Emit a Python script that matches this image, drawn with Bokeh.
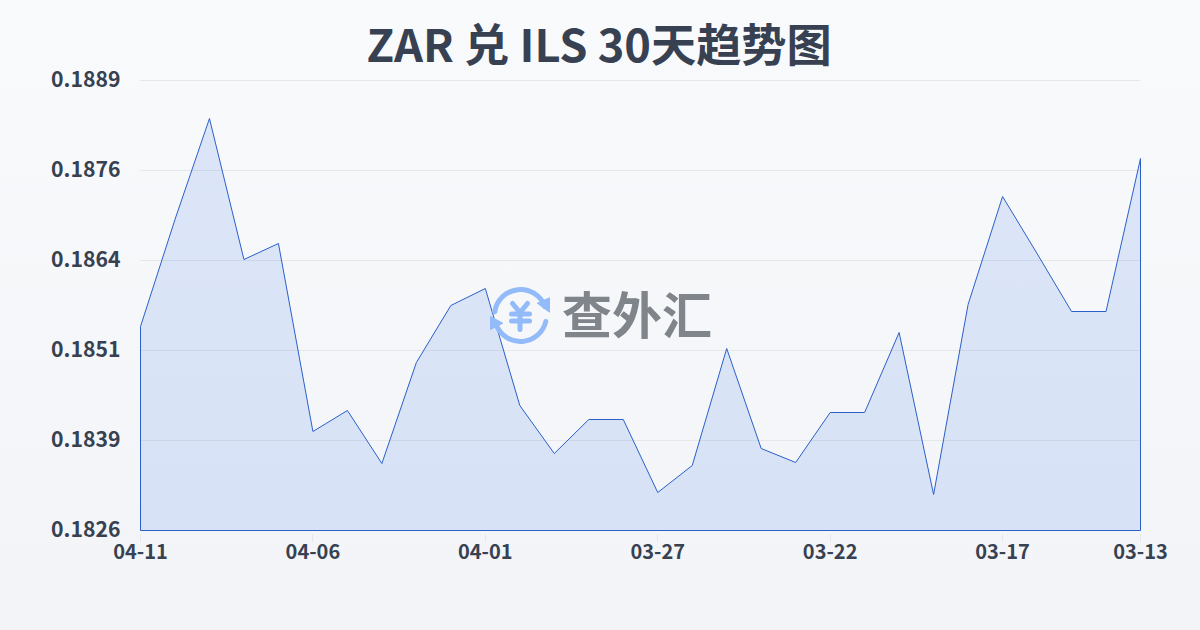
from bokeh.plotting import figure
from bokeh.models import Range1d, Label, FixedTicker, LinearAxis
from bokeh.embed import file_html
from bokeh.resources import INLINE

title_text = "ZAR 兑 ILS 30天趋势图"
dates = ["04-11","04-10","04-09","04-08","04-07","04-06","04-05","04-04","04-03","04-02",
         "04-01","03-31","03-30","03-29","03-28","03-27","03-26","03-25","03-24","03-23",
         "03-22","03-21","03-20","03-19","03-18","03-17","03-16","03-15","03-14","03-13"]
rates = [0.185456,0.186954,0.188368,0.186394,0.186618,0.183986,0.18428,0.183538,0.184952,0.18575,
         0.185988,0.18435,0.183678,0.184154,0.184154,0.183132,0.18351,0.185148,0.183748,0.183552,
         0.184252,0.184252,0.185372,0.183104,0.185764,0.187276,0.186478,0.185666,0.185666,0.187808]
y_ticks = [0.1826,0.18386,0.18512,0.18638,0.18764,0.1889]
y_labels = ["0.1826","0.1839","0.1851","0.1864","0.1876","0.1889"]
x_tick_idx = [0,5,10,15,20,25,29]

FONT = "Noto Sans CJK SC"
INK = "#374151"
PAD = 4   # pixels of frame beyond the data, so edge strokes are not clipped
dx = PAD*(len(dates)-1)/1000
dy = PAD*(y_ticks[-1]-y_ticks[0])/450
lift = 2*(y_ticks[-1]-y_ticks[0])/450  # y labels sit 2px above their grid lines

p = figure(width=1200, height=630, output_backend="svg", toolbar_location=None,
           x_range=Range1d(-dx,len(dates)-1+dx), y_range=Range1d(y_ticks[0]-dy,y_ticks[-1]+dy),
           y_axis_location=None,
           min_border_left=140-PAD, min_border_right=60-PAD, min_border_top=80-PAD, min_border_bottom=100-PAD)
p.styles = {"position":"absolute","left":"0","top":"0",
            "background":"linear-gradient(180deg,#f8fafc 0%,#f2f4f7 100%)"}
p.background_fill_color = None
p.border_fill_color = None
p.outline_line_color = None

p.title.text = title_text
p.title.align = "left"
p.title.offset = 230
p.title.text_font = FONT
p.title.text_font_size = "45.2px"
p.title.text_font_style = "bold"
p.title.text_color = INK
p.title.standoff = 4

p.xgrid.visible = False
p.ygrid.visible = False
p.segment(x0=[0]*len(y_ticks), x1=[len(dates)-1]*len(y_ticks), y0=y_ticks, y1=y_ticks,
          line_color="#e5e7eb", line_width=1)

p.extra_y_ranges["ylab"] = Range1d(y_ticks[0]-dy-lift, y_ticks[-1]+dy-lift)
yax = LinearAxis(y_range_name="ylab", ticker=FixedTicker(ticks=y_ticks),
                 major_label_overrides=dict(zip(y_ticks,y_labels)))
yax.axis_line_color = None
yax.major_tick_line_color = None
yax.minor_tick_line_color = None
yax.major_label_text_font = FONT
yax.major_label_text_font_size = "21.2px"
yax.major_label_text_font_style = "bold"
yax.major_label_text_color = INK
yax.major_label_standoff = 10
p.add_layout(yax, "left")

p.xaxis.ticker = FixedTicker(ticks=x_tick_idx)
p.xaxis.major_label_overrides = {i:dates[i] for i in x_tick_idx}
p.xaxis.axis_line_color = None
p.xaxis.major_tick_line_color = "#e5e7eb"
p.xaxis.major_tick_in = 0
p.xaxis.major_tick_out = 7
p.xaxis.minor_tick_line_color = None
p.xaxis.major_label_text_font = FONT
p.xaxis.major_label_text_font_size = "20px"
p.xaxis.major_label_text_font_style = "bold"
p.xaxis.major_label_text_color = INK
p.xaxis.major_label_standoff = 2

xs = list(range(len(rates)))
p.patch(xs+[xs[-1],xs[0]], rates+[y_ticks[0],y_ticks[0]], fill_color="#2563eb", fill_alpha=0.13,
        line_color="#2b5fc9", line_width=1)

# watermark logo, placed in pixel ranges that mirror the page
p.extra_x_ranges["px"] = Range1d(140-PAD,1140+PAD)
p.extra_y_ranges["px"] = Range1d(530+PAD,80-PAD)
LOGO = "#93bbf9"
kw = dict(x_range_name="px", y_range_name="px")
p.arc(x=[520,520], y=[315,315], radius=26, radius_units="screen",
      start_angle=[0.35,3.55], end_angle=[3.0,6.05], line_color=LOGO, line_width=5, line_cap="round", **kw)
p.patch([536.7,549,549],[302.7,297.3,311.7], fill_color=LOGO, line_color=LOGO, line_width=1, **kw)
p.patch([490,502.3,490],[329,322.7,316], fill_color=LOGO, line_color=LOGO, line_width=1, **kw)
p.multi_line([[512,519.5,527],[511,529],[511,529],[519.5,519.5]],
             [[303,312,303],[313.5,313.5],[320.5,320.5],[312,329]],
             line_color=LOGO, line_width=5, line_cap="round", line_join="round", **kw)

wm = Label(x=636.5, y=311.5, x_units="data", y_units="data", x_range_name="px", y_range_name="px",
           text="查外汇", text_font="Noto Sans CJK SC", text_font_size="50px", text_font_style="bold",
           text_color="#80858c", text_align="center", text_baseline="middle")
p.add_layout(wm)

open("out.html","w").write(file_html(p, INLINE))
